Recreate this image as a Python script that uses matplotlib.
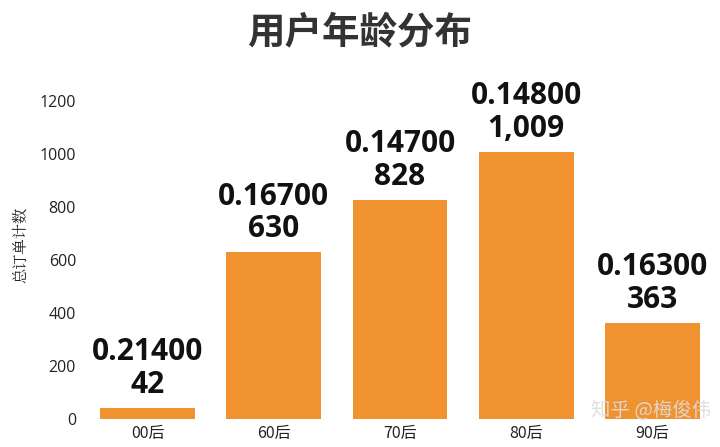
import matplotlib
matplotlib.use("Agg")
import matplotlib.pyplot as plt

plt.rcParams['font.family'] = ['Noto Sans CJK SC', 'DejaVu Sans']

categories = ['00后', '60后', '70后', '80后', '90后']
counts = [42, 630, 828, 1009, 363]
ratios = [0.214, 0.167, 0.147, 0.148, 0.163]
yticks = [0, 200, 400, 600, 800, 1000, 1200]

fig = plt.figure(figsize=(7.2, 4.47), dpi=100)
ax = fig.add_axes([84.4/720, (447-419)/447, (715.6-84.4)/720, (419-75)/447])

x = list(range(len(categories)))
ax.bar(x, counts, width=0.75, color='#F0922F')
ax.set_xlim(-0.5, 4.5)
ax.set_ylim(0, 1300)
ax.set_xticks(x)
ax.set_xticklabels(categories, fontsize=11.5, color='#222222')
ax.set_yticks(yticks)
ax.set_yticklabels([str(t) for t in yticks], fontsize=11.5, color='#222222', family=['Open Sans', 'DejaVu Sans'])
for s in ax.spines.values():
    s.set_visible(False)
ax.tick_params(axis='x', length=0, pad=4)
ax.tick_params(axis='y', length=0, pad=6)

for xi, c, r in zip(x, counts, ratios):
    ax.annotate(f"{r:.5f}\n{c:,}", xy=(xi, c), xytext=(0, 6), textcoords='offset points',
                ha='center', va='bottom', fontsize=21.5, fontweight='bold', color='#111111',
                linespacing=1.1, family=['Open Sans', 'DejaVu Sans'])

fig.text(0.029, (447-245)/447, '总订单计数', rotation=90, ha='center', va='center',
         fontsize=11, color='#222222', family=['Noto Serif CJK SC', 'Noto Sans CJK SC'])
fig.text(0.5, (447-32)/447, '用户年龄分布', ha='center', va='center', fontsize=27,
         fontweight='bold', color='#333333')
fig.text(0.905, (447-410)/447, '知乎 @梅俊伟', ha='center', va='center', fontsize=14,
         color='#dddddd', alpha=0.9)

fig.savefig('out.png', dpi=100)
